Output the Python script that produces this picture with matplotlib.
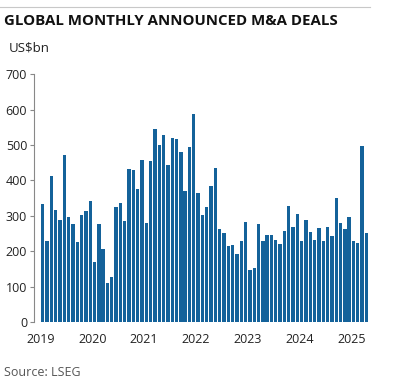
import numpy as np
import matplotlib
matplotlib.use("Agg")
import matplotlib.pyplot as plt
from matplotlib.lines import Line2D

# monthly announced M&A, Jan 2019 .. Apr 2025 (US$bn)
VAL_2019 = [334, 230, 411, 317, 289, 473, 297, 276, 225, 303, 314, 342]
VAL_2020 = [169, 277, 205, 109, 128, 324, 335, 284, 432, 428, 376, 457]
VAL_2021 = [281, 455, 546, 500, 527, 444, 520, 517, 481, 369, 493, 586]
VAL_2022 = [364, 303, 326, 383, 436, 262, 252, 216, 218, 193, 228, 283]
VAL_2023 = [147, 152, 277, 230, 246, 246, 232, 221, 257, 329, 267, 305]
VAL_2024 = [230, 287, 254, 232, 265, 228, 269, 244, 349, 281, 264, 296]
VAL_2025 = [228, 223, 498, 251]
YEARS = ["2019", "2020", "2021", "2022", "2023", "2024", "2025"]
YTICKS = [0, 100, 200, 300, 400, 500, 600, 700]

values = VAL_2019 + VAL_2020 + VAL_2021 + VAL_2022 + VAL_2023 + VAL_2024 + VAL_2025
x = np.arange(len(values))

plt.rcParams["font.family"] = ["Open Sans", "DejaVu Sans"]
fig = plt.figure(figsize=(4.11, 3.88), dpi=100)
ax = fig.add_axes([0.083, 0.170, 0.817, 0.639])

ax.bar(x, values, width=0.78, color="#14629a", linewidth=0)
ax.set_xlim(-2.0, 75.8)
ax.set_ylim(0, 700)
ax.set_yticks(YTICKS)
ax.set_xticks(np.arange(len(YEARS)) * 12 - 0.5)
ax.set_xticklabels(YEARS)
ax.tick_params(axis="x", length=0, labelsize=9, pad=8, colors="#222222")
ax.tick_params(axis="y", length=3, width=0.8, color="#888888", labelsize=9,
               pad=2, labelcolor="#222222")
for s in ["top", "right", "bottom"]:
    ax.spines[s].set_visible(False)
ax.spines["left"].set_color("#888888")
ax.spines["left"].set_linewidth(0.8)

fig.add_artist(Line2D([0.0, 0.90], [0.982, 0.982], color="#c8c8c8", lw=0.8,
                      transform=fig.transFigure))
fig.text(0.01, 0.945, "GLOBAL MONTHLY ANNOUNCED M&A DEALS", fontsize=10.8,
         fontweight="bold", va="center", ha="left", color="#111111")
fig.text(0.022, 0.876, "US$bn", fontsize=9.5, va="center", ha="left", color="#222222")
fig.text(0.01, 0.041, "Source: LSEG", fontsize=9, va="center", ha="left", color="#555555")

fig.savefig("out.png", dpi=100, facecolor="white")
